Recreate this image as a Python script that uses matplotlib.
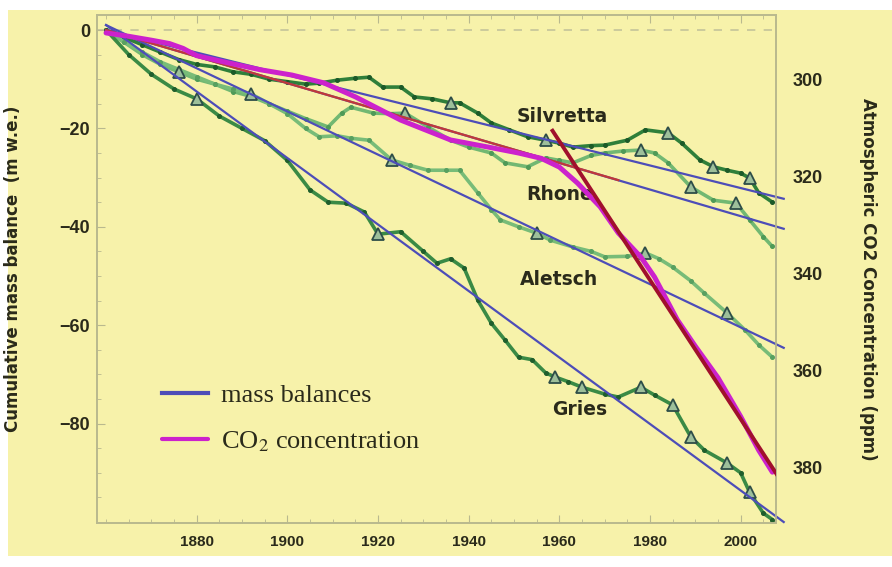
import numpy as np
import matplotlib
matplotlib.use("Agg")
import matplotlib.pyplot as plt
from matplotlib.patches import Rectangle

# cumulative mass balance (m w.e.)
silvretta_years = [1860, 1864, 1868, 1872, 1876, 1880, 1884, 1888, 1892, 1896, 1900, 1904, 1907, 1911,
                   1915, 1918, 1921, 1925, 1928, 1932, 1936, 1938, 1942, 1945, 1949, 1953, 1957, 1960,
                   1963, 1967, 1970, 1975, 1979, 1984, 1987, 1991, 1994, 1997, 2000, 2002, 2004, 2007]
silvretta_mb = [0, -1.5, -3, -4.5, -6, -7, -7.5, -8.5, -9, -10, -10.5, -11, -10.8, -10.2,
                -9.8, -9.6, -11.6, -11.6, -13.6, -14, -14.8, -14.8, -16.9, -18.9, -20.3, -21.7, -22.4, -23,
                -23.8, -23.5, -23.4, -22.4, -20.3, -20.9, -23, -26.4, -27.8, -28.5, -29.1, -30.1, -33.1, -35]
silvretta_tri = [1936, 1957, 1984, 1994, 2002]

rhone_years = [1860, 1864, 1868, 1872, 1876, 1880, 1884, 1888, 1892, 1896, 1900, 1904, 1909, 1912,
               1914, 1919, 1923, 1926, 1931, 1936, 1940, 1945, 1948, 1953, 1957, 1960, 1963, 1967,
               1970, 1974, 1978, 1981, 1984, 1989, 1994, 1999, 2002, 2005, 2007]
rhone_mb = [0, -2.5, -5, -7, -8.5, -10, -11, -12.5, -13.5, -15, -16.5, -18, -19.7, -16.9,
            -15.7, -16.9, -17, -16.9, -19.7, -22.4, -23.8, -25, -27, -27.8, -26, -26.5, -27, -25.5,
            -25, -24.6, -24.4, -25, -27, -31.9, -34.6, -35.2, -38.6, -42, -44]
rhone_tri = [1876, 1926, 1978, 1989, 1999]

aletsch_years = [1860, 1864, 1868, 1872, 1876, 1880, 1884, 1888, 1892, 1896, 1900, 1904, 1907, 1911,
                 1914, 1918, 1923, 1927, 1931, 1935, 1938, 1942, 1945, 1947, 1951, 1955, 1958, 1963,
                 1967, 1970, 1975, 1979, 1982, 1985, 1989, 1992, 1997, 2001, 2004, 2007]
aletsch_mb = [0, -2.5, -4.5, -6.5, -8, -9.5, -11, -12, -13, -15, -17, -20, -21.7, -21.5,
              -22, -22.4, -26.4, -27.5, -28.5, -28.5, -28.5, -33.1, -36.5, -38.6, -40, -41.3, -42.7, -44.1,
              -45, -46.1, -46, -45.3, -46.5, -48.2, -51, -53.5, -57.5, -61, -64, -66.5]
aletsch_tri = [1892, 1923, 1955, 1979, 1997]

gries_years = [1860, 1865, 1870, 1875, 1880, 1885, 1890, 1895, 1900, 1905, 1909, 1913, 1917, 1920,
               1925, 1930, 1933, 1936, 1939, 1942, 1945, 1948, 1951, 1954, 1957, 1959, 1962, 1965,
               1970, 1973, 1978, 1981, 1985, 1989, 1992, 1997, 2000, 2002, 2005, 2007]
gries_mb = [0, -5, -9, -12, -14, -17.5, -20, -22.5, -26.5, -32.5, -35, -35.2, -37, -41.5,
            -41, -45, -47.4, -46.5, -48.4, -54.9, -59.6, -63, -66.5, -67, -69.7, -70.5, -71.5, -72.6,
            -74, -74.6, -72.6, -74.2, -76.2, -82.7, -85.4, -88, -90, -94, -98.2, -99.5]
gries_tri = [1880, 1920, 1959, 1965, 1978, 1985, 1989, 1997, 2002]

# linear trends (start/end values)
trend_years = [1860, 2009.5]
silvretta_trend = [0, -34.3]
rhone_trend = [0, -40.4]
aletsch_trend = [1, -64.6]
gries_trend = [1, -100]

# atmospheric CO2 (ppm)
co2_years = [1860, 1865, 1870, 1874, 1877, 1880, 1887, 1894, 1901, 1908, 1915, 1925, 1936, 1945,
             1951, 1956, 1960, 1964, 1969, 1973, 1978, 1981, 1986, 1990, 1995, 2000, 2004, 2007]
co2_ppm = [290.3, 291, 291.8, 292.5, 293.5, 295, 296.5, 297.9, 299, 300.6, 303.5, 308.3, 312.4, 314,
           315.1, 316.2, 318, 321.3, 326.2, 331.6, 336.6, 340.7, 349.5, 355, 361.5, 369.5, 376.5, 381]
co2_early_years = [1860, 1973]
co2_early_fit = [289.7, 320.7]
co2_late_years = [1958.5, 2008]
co2_late_fit = [310.5, 381.5]

labels = ["Silvretta", "Rhone", "Aletsch", "Gries"]
label_pos = [(1950.5, -17.5), (1952.7, -33.5), (1951.4, -50.8), (1958.4, -77.2)]

YELLOW = "#f7f2aa"
FRAME = "#b9b98e"
TEXT = "#2a2a1a"

fig = plt.figure(figsize=(8.92, 5.67), dpi=100)
fig.patch.set_facecolor("white")
fig.patches.append(Rectangle((8 / 892, 11 / 567), 1, 1 - 21 / 567, transform=fig.transFigure,
                             facecolor=YELLOW, edgecolor="none", zorder=-10))

ax = fig.add_axes([97 / 892, 1 - 523 / 567, 679 / 892, 508 / 567])
ax.set_facecolor(YELLOW)
ax.set_xlim(1858, 2007.8)
ax.set_ylim(-100.2, 3.05)
ax.axhline(0, color="#c4c49a", lw=1.2, ls=(0, (5, 5)), zorder=1)

series = [
    (silvretta_years, silvretta_mb, silvretta_tri, "#2f7f3a", "#1c5a28", silvretta_trend),
    (rhone_years, rhone_mb, rhone_tri, "#72b872", "#4f9a57", rhone_trend),
    (aletsch_years, aletsch_mb, aletsch_tri, "#78bc78", "#58a060", aletsch_trend),
    (gries_years, gries_mb, gries_tri, "#3a8a45", "#1f5e2c", gries_trend),
]
blue_line = None
for years, mb, tri, col, dot, trend in series:
    years = np.array(years)
    mb = np.array(mb)
    ax.plot(years, mb, color=col, lw=2.6, zorder=2, solid_capstyle="round",
            marker="o", ms=2.6, mfc=dot, mec=dot)
    sel = np.isin(years, tri)
    ax.plot(years[sel], mb[sel], ls="none", marker="^", ms=9, mfc="#9dbf9a",
            mec="#2e4d48", mew=1.3, zorder=3)
    ln, = ax.plot(trend_years, trend, color="#4d4db8", lw=1.6, zorder=4, clip_on=False)
    if blue_line is None:
        blue_line = ln

for name, (x, y) in zip(labels, label_pos):
    ax.text(x, y, name, fontsize=13.5, fontweight="bold", family="DejaVu Sans",
            color=TEXT, ha="left", va="center", zorder=5)

ax2 = ax.twinx()
ax2.set_ylim(391.5, 286.6)
ax2.plot(co2_early_years, co2_early_fit, color="#c0383a", lw=1.6, zorder=3)
co2_line, = ax2.plot(co2_years, co2_ppm, color="#cc22cc", lw=3.6, zorder=4,
                     solid_capstyle="round")
ax2.plot(co2_late_years, co2_late_fit, color="#a0102c", lw=2.8, zorder=5)

# axes styling
for a in (ax, ax2):
    for s in a.spines.values():
        s.set_color(FRAME)
        s.set_linewidth(1.2)

ax.set_xticks([1880, 1900, 1920, 1940, 1960, 1980, 2000])
ax.set_xticks(np.arange(1860, 2008, 5), minor=True)
ax.set_yticks([0, -20, -40, -60, -80])
ax.set_yticks(np.arange(-100, 1, 5), minor=True)
ax.tick_params(axis="both", which="both", direction="in", color=FRAME, top=True)
ax.tick_params(axis="both", which="major", length=6)
ax.tick_params(axis="both", which="minor", length=3)
ax.tick_params(axis="x", which="major", pad=9, labelsize=11, labelcolor=TEXT)
ax.tick_params(axis="y", which="major", pad=5, labelsize=13, labelcolor=TEXT)
for lbl in ax.get_xticklabels():
    lbl.set_family(["Liberation Sans Narrow", "Liberation Sans", "DejaVu Sans"])
    lbl.set_fontweight("bold")
for lbl in ax.get_yticklabels():
    lbl.set_family("Liberation Sans")
    lbl.set_fontweight("bold")

ax2.set_yticks([300, 320, 340, 360, 380])
ax2.tick_params(axis="y", which="both", length=0, pad=12, labelsize=13, labelcolor=TEXT)
for lbl in ax2.get_yticklabels():
    lbl.set_family("Liberation Sans")
    lbl.set_fontweight("bold")

ax.set_ylabel("Cumulative mass balance  (m w.e.)", fontsize=12, fontweight="bold",
              family="DejaVu Sans", color=TEXT)
ax.yaxis.set_label_coords(-0.11, 0.5)
ax2.set_ylabel("Atmospheric CO2 Concentration (ppm)", fontsize=12, fontweight="bold",
               family="DejaVu Sans", color=TEXT, rotation=270, va="center")
ax2.yaxis.set_label_coords(1.135, 0.48)

plt.rcParams["mathtext.fontset"] = "stix"
leg = ax2.legend([blue_line, co2_line], ["mass balances", "CO$_2$ concentration"],
                 loc="upper left", bbox_to_anchor=(138 / 892, 1 - 360 / 567),
                 bbox_transform=fig.transFigure, frameon=False,
                 prop={"family": "Liberation Serif", "size": 19},
                 handlelength=1.75, handletextpad=0.5, labelspacing=0.85)
for t in leg.get_texts():
    t.set_color(TEXT)
for h in leg.get_lines():
    h.set_linewidth(3)

fig.savefig("out.png", dpi=100, facecolor=fig.get_facecolor())
